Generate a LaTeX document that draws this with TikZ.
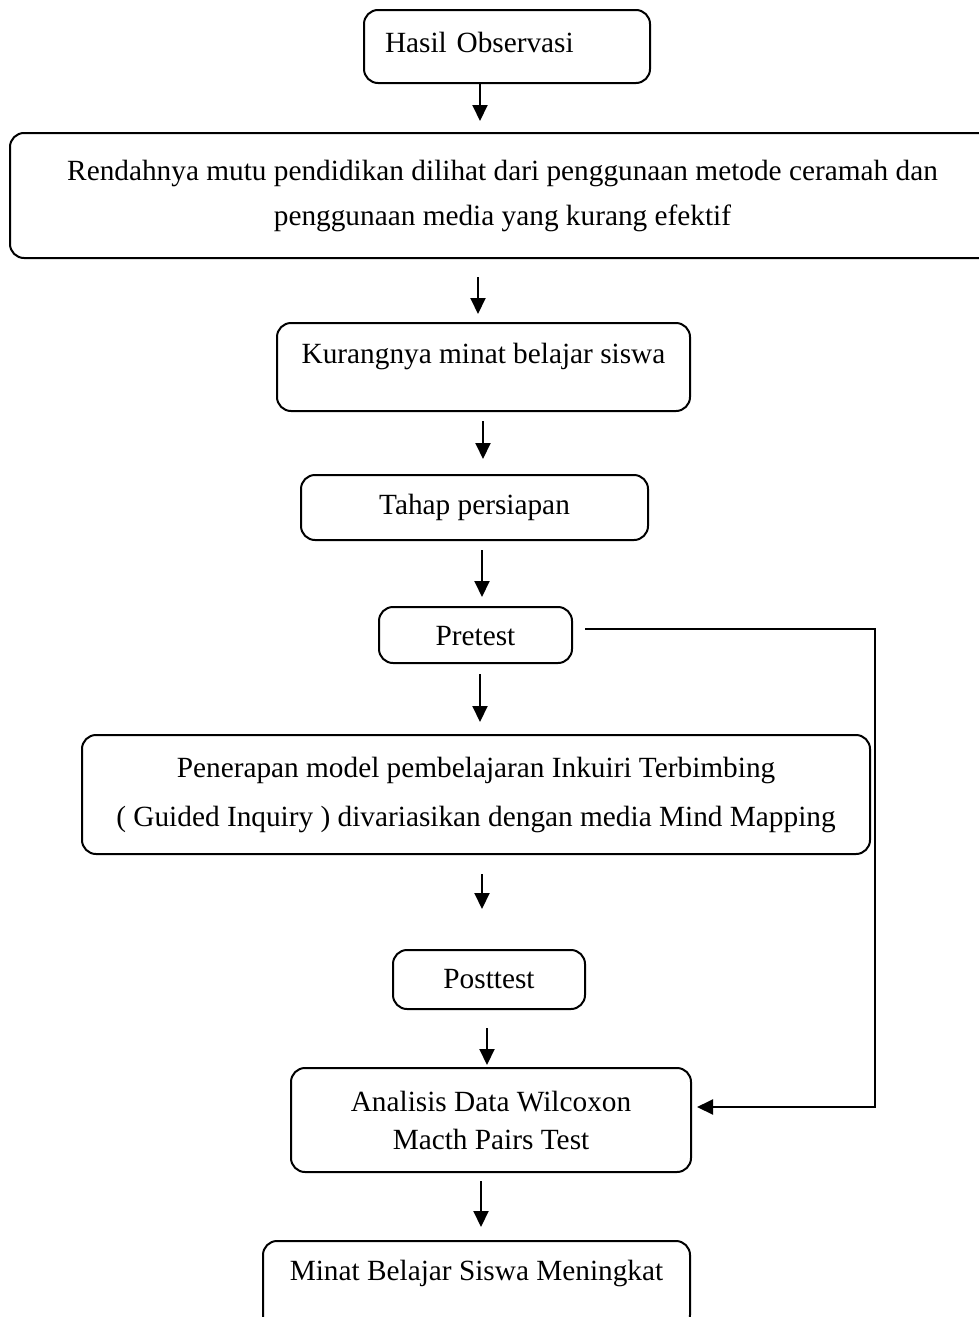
\documentclass[tikz,border=0pt]{standalone}
\usepackage{fontspec}
\setmainfont{Liberation Serif}
\usetikzlibrary{arrows.meta}

\tikzset{
  kotak/.style={draw, line width=1pt, rounded corners=7pt, align=center, inner sep=0pt},
  satu/.style={text height=10pt, text depth=#1},
  baris/.style={font=\fontsize{14.65pt}{#1}\selectfont},
  panah/.style={line width=1pt, -{Triangle[width=7.5pt,length=8pt]}},
}

\begin{document}
\begin{tikzpicture}[x=0.5pt,y=-0.5pt,font=\fontsize{14.65pt}{18pt}\selectfont]
  \useasboundingbox (0,0) rectangle (979,1317);
  % kotak alur
  \node[kotak, satu=4.5pt, text width=143pt, align=left, minimum height=36.5pt] (hasil) at (507,46.5) {\hspace*{10.5pt}Hasil Observasi};
  \node[kotak, baris=22.5pt, minimum width=492.5pt, minimum height=62.5pt] (rend) at (502.5,195.5)
    {Rendahnya mutu pendidikan dilihat dari penggunaan metode ceramah dan\\ penggunaan media yang kurang efektif};
  \node[kotak, satu=14pt, minimum width=206.5pt, minimum height=44pt] (kur) at (483.5,367) {Kurangnya minat belajar siswa};
  \node[kotak, satu=3.5pt, minimum width=173.5pt, minimum height=32.5pt] (tahap) at (474.5,507.5) {Tahap persiapan};
  \node[kotak, satu=0pt, minimum width=96.5pt, minimum height=28pt] (pre) at (475.5,635) {Pretest};
  \node[kotak, baris=24.5pt, minimum width=394pt, minimum height=59.5pt] (pen) at (476,794.5)
    {Penerapan model pembelajaran Inkuiri Terbimbing\\ ( Guided Inquiry ) divariasikan dengan media Mind Mapping};
  \node[kotak, satu=1.5pt, minimum width=96pt, minimum height=29.5pt] (post) at (489,979.5) {Posttest};
  \node[kotak, baris=19pt, minimum width=200pt, minimum height=52pt] (ana) at (491,1120)
    {Analisis Data Wilcoxon\\ Macth Pairs Test};
  \node[kotak, satu=15pt, minimum width=213.5pt, minimum height=44pt] (minat) at (476.5,1285) {Minat Belajar Siswa Meningkat};

  % panah turun
  \foreach \a/\b/\x/\s/\e in {hasil/rend/480/0/5.5, rend/kur/478/9/4, kur/tahap/483/4.5/7.5,
      tahap/pre/482/4.5/4.5, pre/pen/480/5/6, pen/post/482/9.5/20, post/ana/487/9/1, ana/minat/481/4/6.5}
    \draw[panah, shorten <=\s pt, shorten >=\e pt] (\a.south -| \x,0) -- (\b.north -| \x,0);

  % jalur pretest ke analisis
  \coordinate (belok) at (875,1107);
  \draw[panah, shorten <=6pt, shorten >=2.5pt] ([yshift=3pt]pre.east) -| (belok) -- ([yshift=6.5pt]ana.east);
\end{tikzpicture}
\end{document}
